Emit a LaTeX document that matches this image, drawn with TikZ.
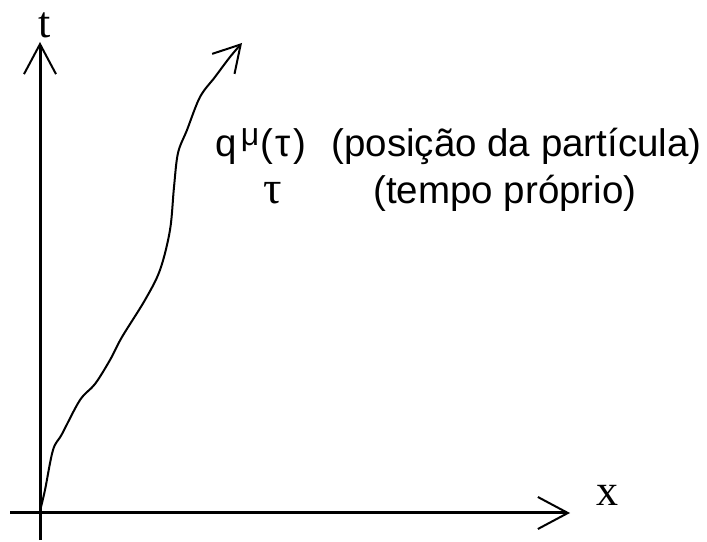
\documentclass[tikz,border=0pt]{standalone}
\usepackage{fontspec}
\setmainfont{Liberation Sans}
\newfontfamily\symfont{Liberation Serif}
\usetikzlibrary{arrows.meta}
\tikzset{
  axis/.style={line width=1.5pt, -{Straight Barb[length=15pt, width=16pt, line width=1pt]}},
  worldline/.style={line width=1pt, -{Straight Barb[length=13pt, width=15pt, line width=1pt]}},
  lbl/.style={font=\fontsize{19.25}{23}\selectfont, inner sep=0pt, anchor=base west},
  axlbl/.style={font=\symfont\fontsize{22}{26}\selectfont, inner sep=0pt},
}

\begin{document}
\begin{tikzpicture}[x=0.5pt, y=0.5pt]
  \useasboundingbox (0,0) rectangle (707,541);
  % axes
  \coordinate (xs) at (10,28);
  \coordinate (xe) at (570,28);
  \coordinate (ys) at (40,1);
  \coordinate (ye) at (40,499);
  \draw[axis] (xs) -- (xe);
  \draw[axis] (ys) -- (ye);
  \node[axlbl] (tlab) at (45,516) {t};
  \node[axlbl] (xlab) at (607,46) {x};
  % world line of the particle
  \draw[worldline] plot[smooth, tension=0.55] coordinates {
    (40,30) (45,51) (53,91) (62,107) (80,141) (95,157) (110,181) (122,204)
    (145,241) (160,271) (170,311) (174,354) (178,388) (187,411) (200,444)
    (215,464) (230,484) (242,498)};
  % labels
  \node[lbl] (qmu) at (215,384)
    {q\hspace{2pt}\raisebox{5.5pt}{\fontsize{16}{18}\selectfont μ}\hspace{0.5pt}(\hspace{1pt}τ\hspace{1.5pt})};
  \node[lbl] (pos) at (331,384) {(posição da partícula)};
  \node[lbl, font=\symfont\fontsize{23}{27}\selectfont] (tau) at (263,337) {τ};
  \node[lbl] (tempo) at (373,337) {(tempo próprio)};
\end{tikzpicture}
\end{document}
